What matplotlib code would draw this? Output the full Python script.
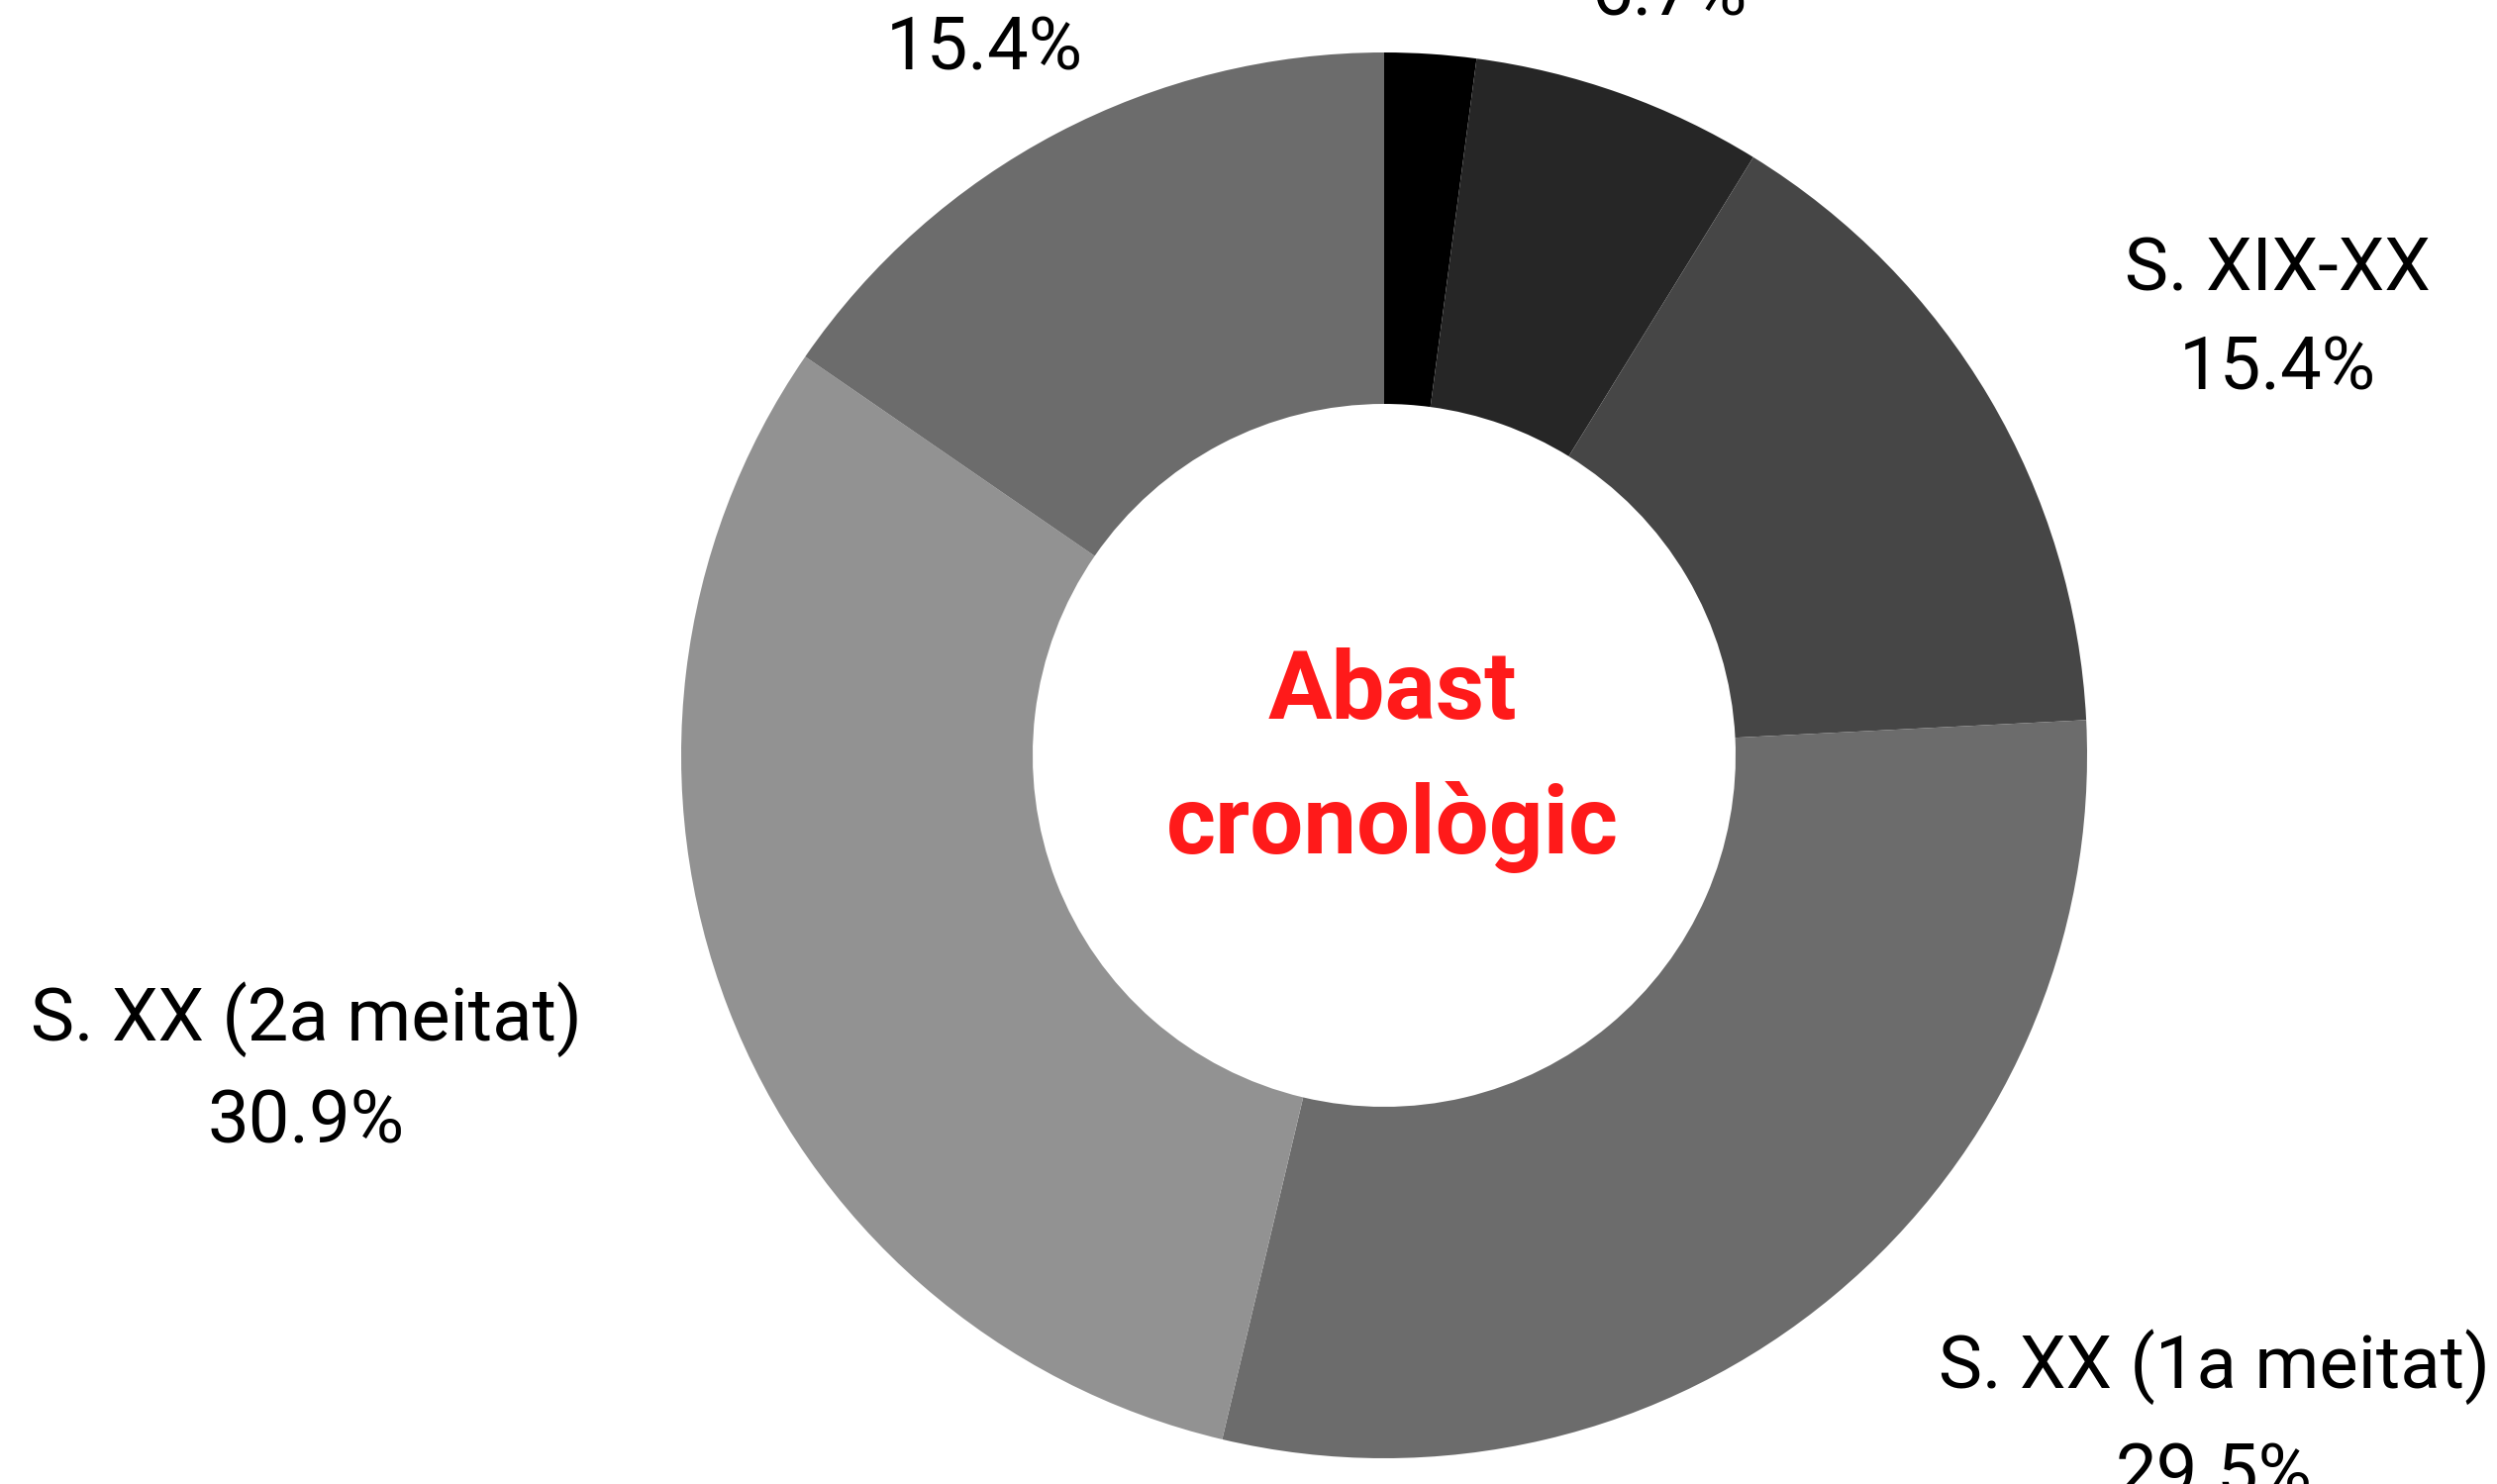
import matplotlib.pyplot as plt

# data (clockwise from 12 o'clock)
categories = ['', '', 'S. XIX-XX', 'S. XX (1a meitat)', 'S. XX (2a meitat)', '']
shares = [2.1, 6.7, 15.4, 29.5, 30.9, 15.4]
colors = ['#000000', '#262626', '#464646', '#6c6c6c', '#929292', '#6c6c6c']

W, H = 2522, 1499
cx, cy, r = 1398, H - 763, 710

plt.rcParams['font.family'] = ['Roboto', 'DejaVu Sans']

fig = plt.figure(figsize=(W / 100, H / 100), dpi=100)
ax = fig.add_axes([0, 0, 1, 1])

ax.pie(shares, colors=colors, startangle=90, counterclock=False,
       center=(cx, cy), radius=r, frame=True,
       wedgeprops=dict(width=r * 0.5, linewidth=0))
ax.set_xlim(0, W)
ax.set_ylim(0, H)
ax.set_aspect('equal')
ax.axis('off')

# label anchors (pixel positions, top-left origin) for name / percent lines
label_pos = [None, (1686, -5), (2300, 273), (2236, 1381), (309, 1030), (994, 50)]
gaps = [0, 0, 100, 110, 104, 0]
fs = 53.5
for name, val, pos, gap in zip(categories, shares, label_pos, gaps):
    if pos is None:
        continue
    x, y = pos
    if name:
        ax.text(x, H - y, name, fontsize=fs, ha='center', va='center')
        y += gap
    ax.text(x, H - y, f'{val:.1f}%', fontsize=fs, ha='center', va='center')

ax.text(cx + 8, cy + 63, 'Abast', fontsize=69, fontweight='bold', color='#ff1a1a',
        ha='center', va='center')
ax.text(cx + 8, cy - 72, 'cronològic', fontsize=69, fontweight='bold', color='#ff1a1a',
        ha='center', va='center')

fig.savefig('out.png', dpi=100)
